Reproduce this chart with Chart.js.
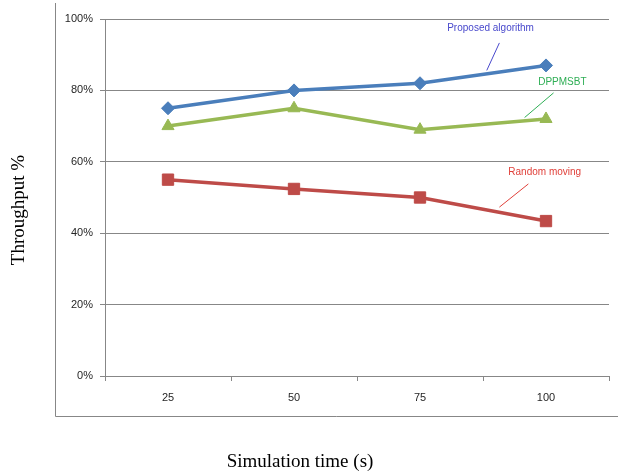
<!DOCTYPE html>
<html>
<head>
<meta charset="utf-8">
<script src="https://cdn.jsdelivr.net/npm/chart.js@4.4.1/dist/chart.umd.min.js"></script>
<style>
  html, body { margin: 0; padding: 0; background: #fff; }
  #wrap { width: 618px; height: 475px; position: relative; }
</style>
</head>
<body>
<div id="wrap"><canvas id="chart"></canvas></div>
<script>
// values
const simTimes = ['25', '50', '75', '100']
const proposed = [75, 80, 82, 87]
const dppmsbt = [70, 75, 69, 72]
const randomMoving = [55, 52.4, 50, 43.4]
const yTicks = [0, 20, 40, 60, 80, 100]

// callout labels: text position and leader line in data units (x = category index)
const callouts = [
  { text: 'Proposed algorithm', color: '#4848cc', x: 2.56, y: 97.4, from: [2.63, 93.3], to: [2.53, 85.6] },
  { text: 'DPPMSBT', color: '#2fae55', x: 3.13, y: 82.4, from: [3.06, 79.3], to: [2.83, 72.4] },
  { text: 'Random moving', color: '#e0403a', x: 2.99, y: 57.1, from: [2.86, 53.8], to: [2.63, 47.3] },
]

const grey = '#878787'

const decor = {
  id: 'decor',
  afterDraw(chart) {
    const ctx = chart.ctx
    const xs = chart.scales.x
    const ys = chart.scales.y
    ctx.save()
    // outer frame (left + bottom)
    ctx.strokeStyle = grey
    ctx.lineWidth = 1
    ctx.beginPath()
    ctx.moveTo(55.5, 3)
    ctx.lineTo(55.5, 416.5)
    ctx.lineTo(618, 416.5)
    ctx.stroke()

    // callouts
    ctx.font = '10px "Liberation Sans", Arial, sans-serif'
    ctx.textAlign = 'center'
    ctx.textBaseline = 'middle'
    callouts.forEach(c => {
      ctx.fillStyle = c.color
      ctx.fillText(c.text, xs.getPixelForValue(c.x), ys.getPixelForValue(c.y))
      ctx.strokeStyle = c.color
      ctx.lineWidth = 1
      ctx.beginPath()
      ctx.moveTo(xs.getPixelForValue(c.from[0]), ys.getPixelForValue(c.from[1]))
      ctx.lineTo(xs.getPixelForValue(c.to[0]), ys.getPixelForValue(c.to[1]))
      ctx.stroke()
    })

    // axis titles
    ctx.fillStyle = '#000'
    ctx.font = '19px "Liberation Serif", "Times New Roman", serif'
    ctx.fillText('Simulation time (s)', 300, 462)
    ctx.translate(19, 210)
    ctx.rotate(-Math.PI / 2)
    ctx.fillText('Throughput %', 0, 0)
    ctx.restore()
  }
}

const mk = (label, data, color, style, radius) => ({
  label,
  data,
  borderColor: color,
  backgroundColor: color,
  borderWidth: 3.5,
  pointStyle: style,
  pointRadius: radius,
  pointBorderWidth: 1,
  tension: 0,
})

new Chart(document.getElementById('chart'), {
  type: 'line',
  data: {
    labels: simTimes,
    datasets: [
      mk('Proposed algorithm', proposed, '#4a7ebb', 'rectRot', 6.5),
      mk('DPPMSBT', dppmsbt, '#98b954', 'triangle', 7),
      mk('Random moving', randomMoving, '#be4b48', 'rect', 8),
    ]
  },
  options: {
    responsive: true,
    maintainAspectRatio: false,
    animation: false,
    layout: { padding: { left: 0, top: 19, right: 9, bottom: 0 } },
    plugins: {
      legend: { display: false },
      tooltip: { enabled: false },
    },
    scales: {
      x: {
        offset: true,
        grid: {
          offset: true,
          drawOnChartArea: false,
          drawTicks: true,
          tickLength: 5,
          color: grey,
        },
        border: { color: grey, width: 1 },
        ticks: {
          padding: 10,
          color: '#262626',
          font: { family: '"Liberation Sans", Arial, sans-serif', size: 11 },
        },
        afterFit: s => { s.height = 99 },
      },
      y: {
        min: 0,
        max: 100,
        afterBuildTicks: s => { s.ticks = yTicks.map(v => ({ value: v })) },
        grid: { color: grey, tickLength: 5, lineWidth: 1 },
        border: { color: grey, width: 1 },
        ticks: {
          padding: 7,
          color: '#262626',
          font: { family: '"Liberation Sans", Arial, sans-serif', size: 11 },
          callback: v => v + '%',
        },
        afterFit: s => { s.width = 105 },
      }
    }
  },
  plugins: [decor]
})
</script>
</body>
</html>
